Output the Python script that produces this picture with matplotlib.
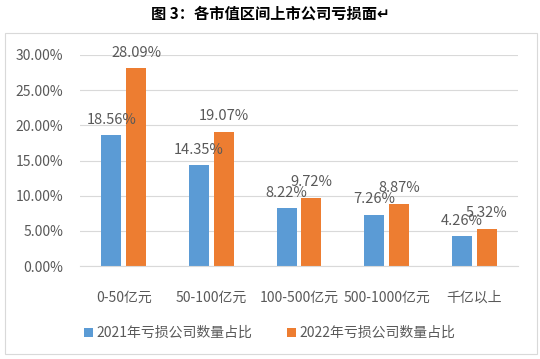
import numpy as np
import matplotlib.pyplot as plt
from matplotlib.patches import Rectangle

plt.rcParams['font.family'] = ['Noto Sans CJK SC', 'DejaVu Sans']

categories = ['0-50亿元', '50-100亿元', '100-500亿元', '500-1000亿元', '千亿以上']
loss_2021 = [18.56, 14.35, 8.22, 7.26, 4.26]
loss_2022 = [28.09, 19.07, 9.72, 8.87, 5.32]
series_names = ['2021年亏损公司数量占比', '2022年亏损公司数量占比']

blue = '#5B9BD5'
orange = '#ED7D31'
gray = '#595959'

fig = plt.figure(figsize=(5.4, 3.59), dpi=100)

# outer chart border
fig.patches.append(Rectangle((5 / 540, 1 - 354 / 359), 532 / 540, 321 / 359,
                             transform=fig.transFigure, fill=False,
                             edgecolor='#D9D9D9', linewidth=0.8))

fig.text(0.5, 1 - 14 / 359, '图 3：各市值区间上市公司亏损面↵', ha='center', va='center',
         fontsize=11, fontweight='bold', color='black')

ax = fig.add_axes([80 / 540, 1 - 266 / 359, 438 / 540, 211 / 359])
x = np.arange(len(categories))
w = 0.228
gap = 0.028
b1 = ax.bar(x - w / 2 - gap, loss_2021, w, color=blue, label=series_names[0])
b2 = ax.bar(x + w / 2 + gap, loss_2022, w, color=orange, label=series_names[1])

for bars in (b1, b2):
    for r in bars:
        ax.text(r.get_x() + r.get_width() / 2, r.get_height() + 1.2, f'{r.get_height():.2f}%',
                ha='center', va='bottom', fontsize=10.5, color=gray, clip_on=False)

ax.set_ylim(0, 30)
ax.set_xlim(-0.5, len(categories) - 0.5)
ax.set_yticks(np.arange(0, 31, 5))
ax.set_yticklabels([f'{v:.2f}%' for v in np.arange(0, 31, 5)])
ax.set_xticks(x)
ax.set_xticklabels(categories)
ax.tick_params(length=0, colors=gray, labelsize=10)
ax.tick_params(axis='y', pad=12)
ax.tick_params(axis='x', pad=18)
ax.grid(axis='y', color='#D9D9D9', linewidth=0.8)
ax.set_axisbelow(True)
for s in ['top', 'right', 'left']:
    ax.spines[s].set_visible(False)
ax.spines['bottom'].set_color('#D9D9D9')

leg = fig.legend(handles=[b1, b2], loc='center', bbox_to_anchor=(0.5, 1 - 333 / 359),
                 ncol=2, frameon=False, fontsize=10, handlelength=0.6, handleheight=0.6,
                 columnspacing=2.5, handletextpad=0.3)
for t in leg.get_texts():
    t.set_color(gray)

fig.savefig('out.png', dpi=100)
